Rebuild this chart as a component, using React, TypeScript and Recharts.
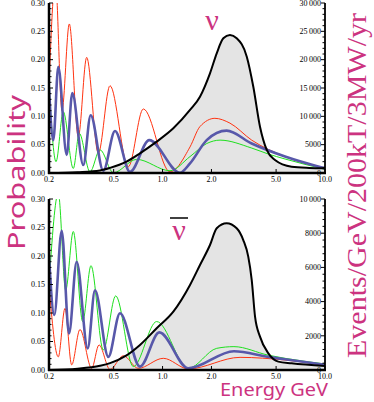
import React from "react";
import { ComposedChart, Line, Area, XAxis, YAxis } from "recharts";

// colours and fonts used all over the figure
const PINK = "#cc3380";
const RED = "#ff3311";
const GREEN = "#1ee01e";
const BLUE = "#5858aa";
const SERIF = "'Liberation Serif', 'DejaVu Serif', serif";
const SANS = "'Noto Sans', 'Open Sans', sans-serif";

// plot box (set by the chart margins and axis sizes below)
const PLOT_LEFT = 49;
const PLOT_RIGHT = 325;
const PANELS = [
  { top: 0, height: 190 },
  { top: 196, height: 191 },
];
const X_AXIS_H = 17;
const MARGIN_TOP = 3;

// axis ticks (major ones carry a label)
const energyTicks = [0.2, 0.5, 1, 2, 5, 10];
const energyLabels = ["0.2", "0.5", "1.0", "2.0", "5.0", "10.0"];
const probTicks = [0, 0.05, 0.1, 0.15, 0.2, 0.25, 0.3];
const probLabels = ["0.00", "0.05", "0.10", "0.15", "0.20", "0.25", "0.30"];
const topEventTicks = [0, 5000, 10000, 15000, 20000, 25000, 30000];
const topEventLabels = ["0", "5000", "10\u2009000", "15\u2009000", "20\u2009000", "25\u2009000", "30\u2009000"];
const bottomEventTicks = [0, 2000, 4000, 6000, 8000, 10000];
const bottomEventLabels = ["0", "2000", "4000", "6000", "8000", "10\u2009000"];

// [energy GeV, probability] — neutrino panel
const topRed: [number, number][] = [
  [0.2, 0.152], [0.219, 0.34], [0.2404, 0.11], [0.2667, 0.263], [0.3029, 0.064],
  [0.3412, 0.204], [0.4022, 0.035], [0.4748, 0.154], [0.6154, 0.011], [0.7612, 0.113],
  [1.111, 0.002], [1.476, 0.046], [1.7, 0.082], [2.1, 0.0965], [2.6, 0.088],
  [3.539, 0.058], [5.674, 0.029], [10, 0.008],
];
const topGreen: [number, number][] = [
  [0.2, 0.1535], [0.2209, 0.02], [0.2449, 0.108], [0.2822, 0.008], [0.3072, 0.07],
  [0.3575, 0.002], [0.4121, 0.041], [0.4976, 0.0005], [0.6931, 0.024], [1.111, 0.004],
  [1.476, 0.029], [1.87, 0.052], [2.26, 0.058], [3.539, 0.044], [4.478, 0.0335],
  [5.674, 0.0247], [10, 0.0065],
];
const topBlue: [number, number][] = [
  [0.2, 0.15], [0.2126, 0.058], [0.2282, 0.1875], [0.257, 0.032], [0.2782, 0.141],
  [0.3252, 0.014], [0.3611, 0.102], [0.4318, 0.004], [0.5097, 0.074], [0.6303, 0.002],
  [0.8286, 0.058], [1.28, 0.0005], [1.476, 0.017], [1.87, 0.058], [2.48, 0.0747],
  [3.539, 0.052], [5.674, 0.029], [10, 0.008],
];
// [energy GeV, events/GeV]
const topEvents: [number, number][] = [
  [0.2, 0], [0.3, 150], [0.412, 450], [0.475, 900], [0.6, 2000], [0.726, 3470],
  [0.92, 5530], [1.165, 7880], [1.476, 11120], [1.7, 13470], [1.959, 17590],
  [2.155, 21120], [2.366, 23770], [2.6, 24350], [2.86, 23770], [3.3, 20530],
  [3.62, 15230], [3.98, 8170], [4.38, 4060], [4.92, 2290], [6.23, 1110], [8, 900],
  [10, 830],
];

// antineutrino panel
const botRed: [number, number][] = [
  [0.2, 0.149], [0.2282, 0.023], [0.2508, 0.108], [0.2758, 0.009], [0.3102, 0.071],
  [0.3663, 0.003], [0.4063, 0.044], [0.4748, 0.001], [0.5734, 0.025], [0.709, 0.003],
  [1.0107, 0.0205], [1.4405, 0.002], [3.0, 0.0222], [5.674, 0.0175], [10, 0.0088],
];
const botGreen: [number, number][] = [
  [0.2, 0.15], [0.2282, 0.31], [0.2533, 0.14], [0.2822, 0.243], [0.3225, 0.085],
  [0.3626, 0.183], [0.4318, 0.035], [0.5148, 0.13], [0.6605, 0.006], [0.92, 0.085],
  [1.4405, 0.003], [2.155, 0.038], [2.75, 0.041], [4.478, 0.026], [5.674, 0.0205],
  [10, 0.0105],
];
const botBlue: [number, number][] = [
  [0.2, 0.2], [0.2156, 0.0965], [0.2394, 0.244], [0.2655, 0.064], [0.2961, 0.19],
  [0.3461, 0.038], [0.3838, 0.14], [0.4636, 0.023], [0.547, 0.0995], [0.7263, 0.006],
  [0.955, 0.066], [1.4405, 0.003], [2.75, 0.033], [4.478, 0.023], [5.674, 0.0188],
  [10, 0.0093],
];
const botEvents: [number, number][] = [
  [0.2, 0], [0.3, 80], [0.412, 250], [0.475, 400], [0.6, 850], [0.726, 1460],
  [0.92, 2440], [1.165, 3410], [1.476, 4970], [1.7, 6140], [1.959, 7310],
  [2.155, 8290], [2.48, 8580], [2.86, 8290], [3.14, 7600], [3.37, 6630], [3.54, 5260],
  [3.71, 3120], [3.98, 1950], [4.48, 975], [5.16, 490], [6.23, 390], [10, 230],
];

const pts = (arr: [number, number][]) => arr.map(([e, v]) => ({ e, v }));

// put 'parts' minor ticks inside each major interval
function withMinor(major: number[], parts: number) {
  const out: number[] = [];
  for (let i = 0; i < major.length - 1; i++) {
    for (let k = 0; k < parts; k++) out.push(major[i] + ((major[i + 1] - major[i]) * k) / parts);
  }
  out.push(major[major.length - 1]);
  return out;
}

const findMajor = (majors: number[], v: number) =>
  majors.findIndex((m) => Math.abs(m - v) <= 1e-6 * (Math.abs(m) + 1));

const yTick = (majors: number[], labels: string[], side: "left" | "right") => (props: any) => {
  const { x, y, payload } = props;
  const i = findMajor(majors, payload.value);
  const len = i >= 0 ? 4 : 2.5;
  const dir = side === "left" ? 1 : -1;
  return (
    <g>
      <line x1={x} x2={x + dir * len} y1={y} y2={y} stroke="#000" strokeWidth={1} />
      {i >= 0 && (
        <text x={x - 4} y={y + 2.8} textAnchor="end" fontSize={8} fontFamily={SERIF} fill="#000">
          {labels[i]}
        </text>
      )}
    </g>
  );
};

const xTick = (props: any) => {
  const { x, y, payload } = props;
  const i = findMajor(energyTicks, payload.value);
  return (
    <g>
      <line x1={x} x2={x} y1={y} y2={y - 4} stroke="#000" strokeWidth={1} />
      <text x={x} y={y + 9} textAnchor="middle" fontSize={8} fontFamily={SERIF} fill="#000">
        {energyLabels[i]}
      </text>
    </g>
  );
};

function Panel(props: {
  red: [number, number][];
  green: [number, number][];
  blue: [number, number][];
  events: [number, number][];
  eventTicks: number[];
  eventLabels: string[];
  eventMax: number;
  height: number;
}) {
  const { red, green, blue, events, eventTicks, eventLabels, eventMax, height } = props;
  return (
    <ComposedChart width={374} height={height} margin={{ top: MARGIN_TOP, right: 0, bottom: 0, left: 0 }}>
      <XAxis
        dataKey="e"
        type="number"
        scale="log"
        domain={[0.2, 10]}
        allowDataOverflow
        ticks={energyTicks}
        interval={0}
        height={X_AXIS_H}
        tickSize={0}
        tickMargin={0}
        tickLine={false}
        axisLine={false}
        tick={xTick}
      />
      <YAxis
        yAxisId="left"
        type="number"
        domain={[0, 0.3]}
        allowDataOverflow
        ticks={withMinor(probTicks, 5)}
        interval={0}
        width={PLOT_LEFT}
        tickSize={0}
        tickMargin={0}
        tickLine={false}
        axisLine={false}
        tick={yTick(probTicks, probLabels, "left")}
      />
      <YAxis
        yAxisId="right"
        orientation="right"
        type="number"
        domain={[0, eventMax]}
        allowDataOverflow
        ticks={withMinor(eventTicks, 5)}
        interval={0}
        width={374 - PLOT_RIGHT}
        tickSize={0}
        tickMargin={0}
        tickLine={false}
        axisLine={false}
        tick={yTick(eventTicks, eventLabels, "right")}
      />
      <Area
        yAxisId="right"
        data={pts(events)}
        dataKey="v"
        type="monotone"
        stroke="none"
        fill="#e4e4e4"
        fillOpacity={1}
        isAnimationActive={false}
      />
      <Line yAxisId="left" data={pts(red)} dataKey="v" type="monotone" stroke={RED} strokeWidth={1} dot={false} isAnimationActive={false} />
      <Line yAxisId="left" data={pts(green)} dataKey="v" type="monotone" stroke={GREEN} strokeWidth={1} dot={false} isAnimationActive={false} />
      <Line yAxisId="left" data={pts(blue)} dataKey="v" type="monotone" stroke={BLUE} strokeWidth={2.6} dot={false} isAnimationActive={false} />
      <Line yAxisId="right" data={pts(events)} dataKey="v" type="monotone" stroke="#000" strokeWidth={2} dot={false} isAnimationActive={false} />
    </ComposedChart>
  );
}

export default function App() {
  return (
    <div style={{ position: "absolute", left: 0, top: 0, width: 374, height: 402, background: "#fff", overflow: "hidden" }}>
      <div style={{ position: "absolute", left: 0, top: PANELS[0].top }}>
        <Panel
          red={topRed}
          green={topGreen}
          blue={topBlue}
          events={topEvents}
          eventTicks={topEventTicks}
          eventLabels={topEventLabels}
          eventMax={30000}
          height={PANELS[0].height}
        />
      </div>
      <div style={{ position: "absolute", left: 0, top: PANELS[1].top }}>
        <Panel
          red={botRed}
          green={botGreen}
          blue={botBlue}
          events={botEvents}
          eventTicks={bottomEventTicks}
          eventLabels={bottomEventLabels}
          eventMax={10000}
          height={PANELS[1].height}
        />
      </div>
      <svg width={374} height={402} style={{ position: "absolute", left: 0, top: 0, pointerEvents: "none" }}>
        {/* frame of each panel: left, bottom, right */}
        {PANELS.map((p, k) => {
          const top = p.top + MARGIN_TOP;
          const bottom = p.top + p.height - X_AXIS_H;
          return (
            <g key={k}>
              <line x1={PLOT_LEFT} x2={PLOT_LEFT} y1={top} y2={bottom + 1} stroke="#000" strokeWidth={2.5} />
              <line x1={PLOT_LEFT - 1} x2={PLOT_RIGHT + 1} y1={bottom} y2={bottom} stroke="#000" strokeWidth={2.5} />
              <line x1={PLOT_RIGHT} x2={PLOT_RIGHT} y1={top} y2={bottom} stroke="#000" strokeWidth={1.8} />
            </g>
          );
        })}
        <text
          transform="translate(25,172.5) rotate(-90)"
          textAnchor="middle"
          fontFamily={SANS}
          fontSize={23}
          fill={PINK}
          textLength={155}
          lengthAdjust="spacingAndGlyphs"
        >
          Probability
        </text>
        <text
          transform="translate(366,185.5) rotate(-90)"
          textAnchor="middle"
          fontFamily={SERIF}
          fontSize={27}
          fill={PINK}
          textLength={345}
          lengthAdjust="spacingAndGlyphs"
        >
          Events/GeV/200kT/3MW/yr
        </text>
        <text
          x={220}
          y={396}
          fontFamily={SANS}
          fontSize={18}
          fill={PINK}
          textLength={108}
          lengthAdjust="spacingAndGlyphs"
        >
          Energy GeV
        </text>
        <text x={212} y={30} textAnchor="middle" fontFamily={SERIF} fontSize={30} fill={PINK}>
          ν
        </text>
        <line x1={170} x2={188} y1={218} y2={218} stroke="#000" strokeWidth={1.5} />
        <text x={179} y={240} textAnchor="middle" fontFamily={SERIF} fontSize={30} fill={PINK}>
          ν
        </text>
      </svg>
    </div>
  );
}
